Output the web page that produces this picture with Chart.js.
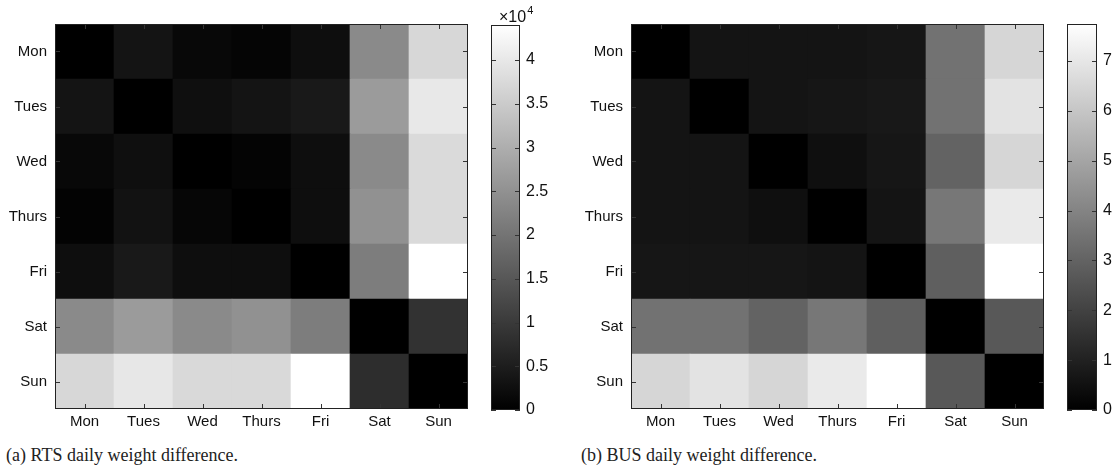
<!DOCTYPE html>
<html>
<head>
<meta charset="utf-8">
<script src="https://cdn.jsdelivr.net/npm/chart.js@4/dist/chart.umd.min.js"></script>
<style>
  body { margin: 0; background: #fff; width: 1118px; height: 470px; overflow: hidden; position: relative; }
  canvas { position: absolute; top: 0; }
  .cap { position: absolute; top: 445px; font-family: "Liberation Serif", serif; font-size: 18px; color: #222; white-space: nowrap; }
</style>
</head>
<body>
<canvas id="heatA" width="480" height="440" style="left:0px"></canvas>
<canvas id="barA" width="80" height="440" style="left:480px"></canvas>
<canvas id="heatB" width="495" height="440" style="left:560px"></canvas>
<canvas id="barB" width="63" height="440" style="left:1055px"></canvas>
<div class="cap" style="left:6px">(a) RTS daily weight difference.</div>
<div class="cap" style="left:581px">(b) BUS daily weight difference.</div>
<script>
const days = ["Mon", "Tues", "Wed", "Thurs", "Fri", "Sat", "Sun"];

// RTS weight difference (x 10^4), rows Mon..Sun, columns Mon..Sun
const rtsMon   = [0.00, 0.35, 0.14, 0.09, 0.24, 2.38, 3.71];
const rtsTues  = [0.35, 0.00, 0.26, 0.35, 0.43, 2.67, 4.00];
const rtsWed   = [0.14, 0.26, 0.00, 0.07, 0.24, 2.38, 3.76];
const rtsThurs = [0.05, 0.31, 0.10, 0.00, 0.24, 2.50, 3.76];
const rtsFri   = [0.24, 0.43, 0.24, 0.24, 0.00, 2.16, 4.40];
const rtsSat   = [2.38, 2.67, 2.38, 2.50, 2.16, 0.00, 0.86];
const rtsSun   = [3.71, 3.98, 3.74, 3.74, 4.40, 0.78, 0.00];
const rtsRows = [rtsMon, rtsTues, rtsWed, rtsThurs, rtsFri, rtsSat, rtsSun];
const rtsExp = 4;

// BUS weight difference, rows Mon..Sun, columns Mon..Sun
const busMon   = [0.00, 0.60, 0.60, 0.60, 0.66, 3.47, 6.49];
const busTues  = [0.60, 0.00, 0.60, 0.66, 0.72, 3.47, 6.88];
const busWed   = [0.60, 0.60, 0.00, 0.45, 0.66, 3.02, 6.49];
const busThurs = [0.60, 0.60, 0.45, 0.00, 0.60, 3.62, 7.10];
const busFri   = [0.66, 0.66, 0.66, 0.60, 0.00, 2.87, 7.74];
const busSat   = [3.47, 3.47, 3.02, 3.62, 2.87, 0.00, 2.66];
const busSun   = [6.49, 6.88, 6.49, 7.10, 7.74, 2.66, 0.00];
const busRows = [busMon, busTues, busWed, busThurs, busFri, busSat, busSun];

const labelFont = { family: "'Liberation Sans', Arial, sans-serif", size: 15 };

function gray(v, max) {
  const g = Math.round((255 * v) / max);
  return `rgb(${g},${g},${g})`;
}

// box + inward tick marks, matlab style
const frameTicks = {
  id: "frameTicks",
  afterDatasetsDraw(chart, args, opts) {
    const { ctx, chartArea: { left, right, top, bottom }, scales: { x, y } } = chart;
    ctx.save();
    ctx.strokeStyle = "#333";
    ctx.lineWidth = 1;
    ctx.beginPath();
    if (opts.xTicks) {
      x.ticks.forEach((t, i) => {
        const px = Math.round(x.getPixelForTick(i)) + 0.5;
        ctx.moveTo(px, bottom);
        ctx.lineTo(px, bottom - 5);
        ctx.moveTo(px, top);
        ctx.lineTo(px, top + 5);
      });
    }
    y.ticks.forEach((t) => {
      const py = Math.round(y.getPixelForValue(t.value)) + 0.5;
      ctx.moveTo(left, py);
      ctx.lineTo(left + 5, py);
      ctx.moveTo(right, py);
      ctx.lineTo(right - 5, py);
    });
    ctx.stroke();
    ctx.strokeStyle = "#222";
    ctx.strokeRect(left + 0.5, top + 0.5, right - left - 1, bottom - top - 1);
    ctx.restore();
  },
};

function heatmap(id, rows, yWidth, padRight) {
  const max = Math.max(...rows.flat());
  // stacked bars, bottom row first
  const datasets = rows
    .map((row, r) => ({
      label: days[r],
      data: days.map(() => 1),
      backgroundColor: row.map((v) => gray(v, max)),
      borderWidth: 0,
      barPercentage: 1,
      categoryPercentage: 1,
    }))
    .reverse();

  return new Chart(document.getElementById(id), {
    type: "bar",
    data: { labels: days, datasets: datasets },
    options: {
      responsive: false,
      devicePixelRatio: 1,
      animation: false,
      events: [],
      layout: { padding: { top: 24, right: padRight } },
      plugins: { legend: { display: false }, tooltip: { enabled: false }, frameTicks: { xTicks: true } },
      scales: {
        x: {
          stacked: true,
          grid: { display: false, drawTicks: false },
          border: { display: false },
          ticks: { color: "#111", font: labelFont, padding: 4 },
          afterFit: (s) => { s.height = 31; },
        },
        y: {
          stacked: true,
          min: 0,
          max: 7,
          grid: { display: false, drawTicks: false },
          border: { display: false },
          ticks: {
            color: "#111",
            font: labelFont,
            padding: 8,
            callback: (v) => days[Math.round(6.5 - v)],
          },
          afterBuildTicks: (s) => {
            s.ticks = days.map((d, i) => ({ value: i + 0.5 }));
          },
          afterFit: (s) => { s.width = yWidth; },
        },
      },
    },
    plugins: [frameTicks],
  });
}

function colorbar(id, rows, step, padLeft, axisWidth, top, exp) {
  const max = Math.max(...rows.flat());
  const expLabel = {
    id: "expLabel",
    afterDraw(chart) {
      if (exp === undefined) return;
      const { ctx, chartArea: { left } } = chart;
      ctx.save();
      ctx.fillStyle = "#111";
      ctx.textBaseline = "alphabetic";
      ctx.font = "16px 'Liberation Sans', Arial, sans-serif";
      ctx.fillText("\u00d710", left + 8, 22);
      const w = ctx.measureText("\u00d710").width;
      ctx.font = "11px 'Liberation Sans', Arial, sans-serif";
      ctx.fillText(String(exp), left + 8 + w + 1, 14);
      ctx.restore();
    },
  };
  return new Chart(document.getElementById(id), {
    type: "bar",
    data: {
      labels: [""],
      datasets: [
        {
          data: [max],
          borderWidth: 0,
          barPercentage: 1,
          categoryPercentage: 1,
          backgroundColor: (c) => {
            const a = c.chart.chartArea;
            if (!a) return "#777";
            const g = c.chart.ctx.createLinearGradient(0, a.bottom, 0, a.top);
            g.addColorStop(0, "#000");
            g.addColorStop(1, "#fff");
            return g;
          },
        },
      ],
    },
    options: {
      responsive: false,
      devicePixelRatio: 1,
      animation: false,
      events: [],
      layout: { padding: { top: top, left: padLeft, bottom: 30 } },
      plugins: { legend: { display: false }, tooltip: { enabled: false }, frameTicks: { xTicks: false } },
      scales: {
        x: { display: false },
        y: {
          position: "right",
          min: 0,
          max: max,
          grid: { display: false, drawTicks: false },
          border: { display: false },
          ticks: {
            stepSize: step,
            includeBounds: false,
            color: "#111",
            font: { family: labelFont.family, size: 16 },
            padding: 6,
            callback: (v) => String(v),
          },
          afterFit: (s) => { s.width = axisWidth; },
        },
      },
    },
    plugins: [frameTicks, expLabel],
  });
}

const heatA = heatmap("heatA", rtsRows, 55, 12);
const barA = colorbar("barA", rtsRows, 0.5, 11, 40, 25, rtsExp);
const heatB = heatmap("heatB", busRows, 71, 11);
const barB = colorbar("barB", busRows, 1, 12, 21, 24);
</script>
</body>
</html>
